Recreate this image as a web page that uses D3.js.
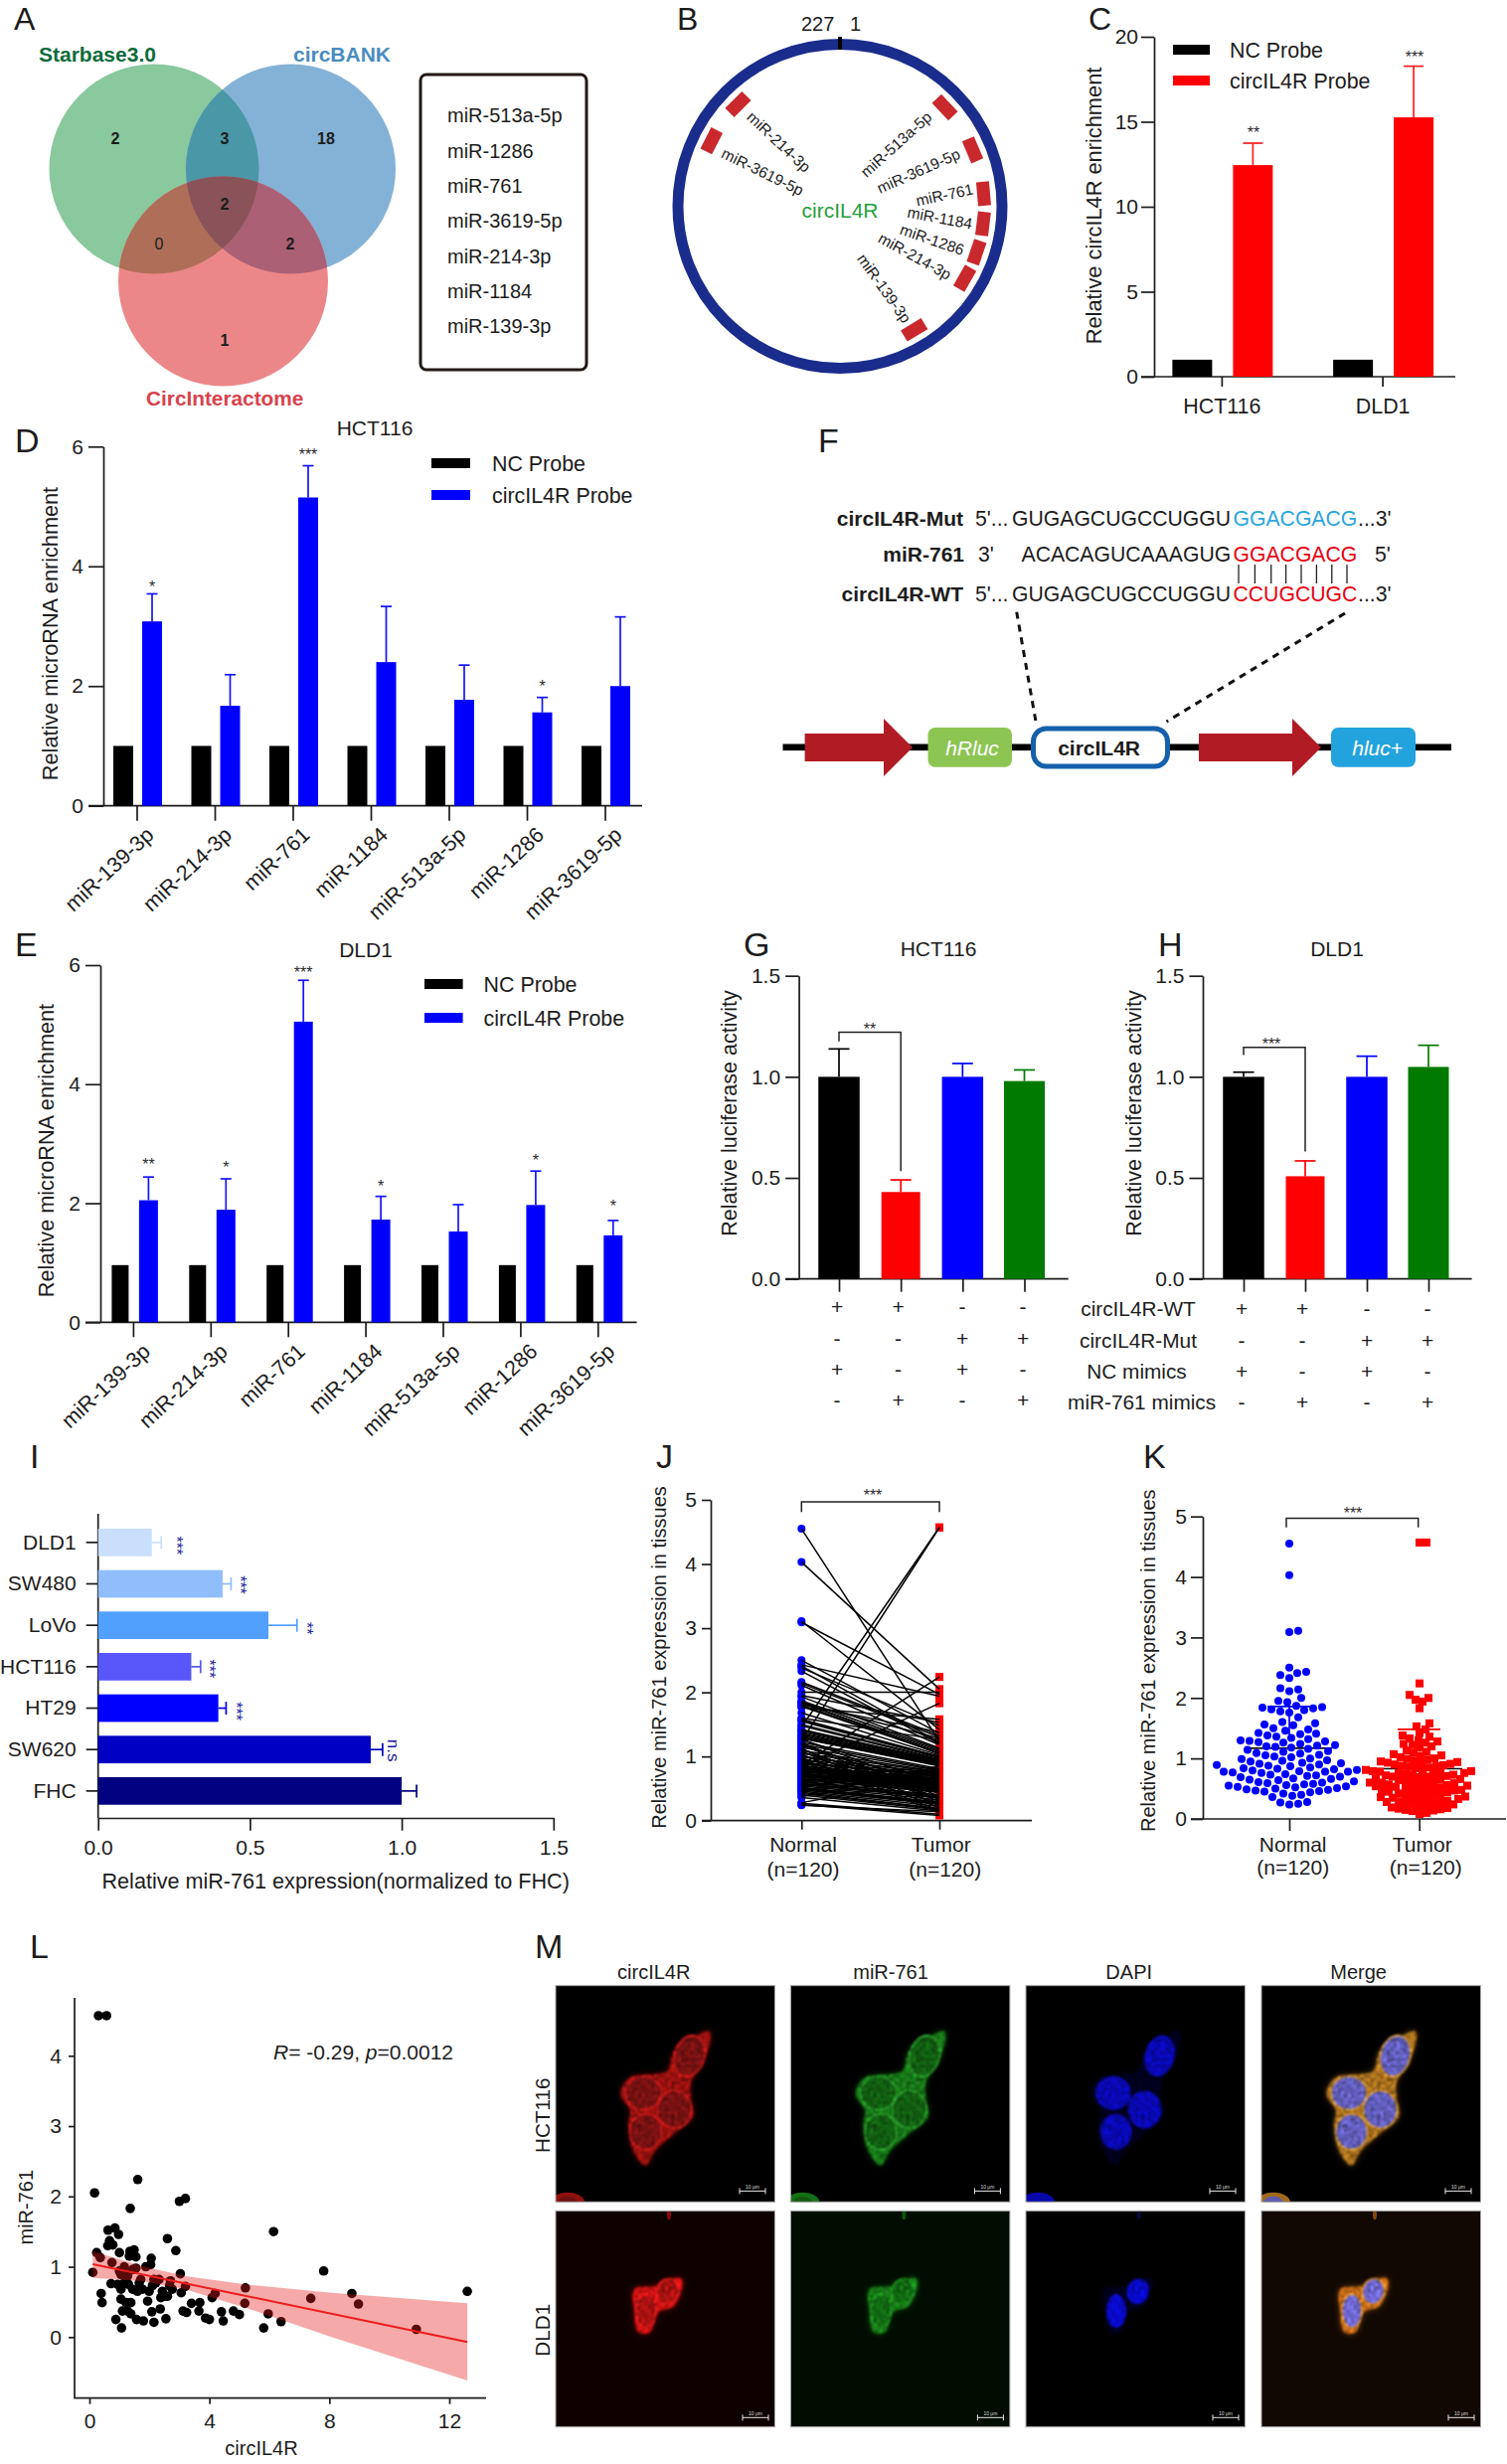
<!DOCTYPE html>
<html><head><meta charset="utf-8">
<script src="https://cdn.jsdelivr.net/npm/d3@7"></script>
<style>html,body{margin:0;background:#fff}svg{display:block}text{font-family:"Liberation Sans",Arial,sans-serif;fill:#1c1c1c}</style>
</head><body><svg id="fig" width="1516" height="2479" viewBox="0 0 1516 2479"></svg>
<script>
// ---------- data ----------
const vennItems=["miR-513a-5p","miR-1286","miR-761","miR-3619-5p","miR-214-3p","miR-1184","miR-139-3p"];
const vennCounts=[2,3,18,2,0,2,1];
const cCats=["HCT116","DLD1"];
const cNC=[1,1];
const cProbe=[12.45,15.26];
const cErr=[13.74,18.27];
const mirCats=["miR-139-3p","miR-214-3p","miR-761","miR-1184","miR-513a-5p","miR-1286","miR-3619-5p"];
const dNC=[1,1,1,1,1,1,1];
const dProbe=[3.08,1.67,5.15,2.40,1.77,1.56,2.00];
const dErr=[3.54,2.19,5.68,3.33,2.35,1.81,3.155];
const dStars=["*","","***","","","*",""];
const eNC=[.96,.96,.96,.96,.96,.96,.96];
const eProbe=[2.05,1.89,5.05,1.725,1.525,1.97,1.46];
const eErr=[2.44,2.41,5.745,2.115,1.976,2.54,1.71];
const eStars=["**","*","***","*","","*","*"];
const lucCats=["a","b","c","d"];
const lucColors=["#000000","#ff0000","#0000ff","#007a00"];
const gVals=[1,.43,1,.979];
const gErr=[1.138,.49,1.066,1.034];
const hVals=[1,.508,1,1.049];
const hErr=[1.023,.584,1.102,1.156];
const signRows=[["+","+","-","-"],["-","-","+","+"],["+","-","+","-"],["-","+","-","+"]];
const signNames=["circIL4R-WT","circIL4R-Mut","NC mimics","miR-761 mimics"];
const iCats=["DLD1","SW480","LoVo","HCT116","HT29","SW620","FHC"];
const iVals=[.177,.41,.561,.307,.396,.898,1];
const iErr=[.208,.438,.655,.3375,.4215,.937,1.049];
const iStars=["***","***","**","***","***","n.s",""];
const iColors=["#c9dffb","#90bdfb","#52a0fe","#5757fa","#0000ff","#0000c4","#000080"];
const normal=[4.55,4.03,3.11,3.09,2.50,2.43,2.41,2.38,2.33,2.16,
2.14,2.11,2.00,1.95,1.93,1.87,1.85,1.84,1.83,1.81,
1.80,1.78,1.76,1.68,1.60,1.58,1.56,1.55,1.50,1.48,
1.46,1.42,1.41,1.40,1.38,1.36,1.34,1.32,1.30,1.29,
1.28,1.27,1.26,1.24,1.22,1.21,1.20,1.19,1.18,1.16,
1.14,1.12,1.11,1.09,1.08,1.06,1.05,1.03,1.02,1.00,
0.99,0.97,0.96,0.95,0.93,0.92,0.91,0.90,0.89,0.88,
0.87,0.85,0.84,0.83,0.82,0.81,0.80,0.79,0.78,0.78,
0.78,0.77,0.76,0.74,0.73,0.72,0.71,0.70,0.69,0.67,
0.66,0.65,0.64,0.62,0.61,0.60,0.59,0.58,0.57,0.56,
0.55,0.54,0.53,0.52,0.51,0.50,0.49,0.48,0.47,0.46,
0.45,0.44,0.42,0.40,0.38,0.36,0.28,0.27,0.25,0.24];
const tumor=[1.24,2.05,1.42,1.97,1.36,1.94,1.22,1.48,1.20,1.33,
1.30,1.18,2.00,1.53,1.13,1.11,1.04,1.28,1.09,1.38,
1.07,1.05,1.58,1.02,1.26,1.00,0.99,0.98,0.96,0.95,
4.57,0.94,0.93,0.92,0.91,0.90,0.89,0.88,0.87,0.86,
0.85,0.46,0.60,4.57,0.81,0.38,0.42,0.79,0.34,0.56,
0.78,0.30,0.33,0.76,0.24,0.53,0.75,0.20,0.48,0.73,
0.73,0.44,0.16,0.71,0.37,0.13,0.70,0.51,0.69,0.28,
2.24,0.66,1.83,0.65,0.64,0.63,0.62,0.61,0.60,0.59,
0.58,0.57,0.56,0.55,0.54,0.52,0.50,0.49,0.48,0.47,
0.84,0.45,0.44,0.79,0.40,0.39,0.80,0.37,0.36,0.35,
0.77,0.32,0.76,0.29,0.28,0.27,0.26,0.25,0.74,0.22,
0.72,0.19,0.18,0.17,0.70,0.15,0.66,0.10,0.08,0.14];
const normalMean=1.17, normalUpper=1.86, tumorMean=.83, tumorUpper=1.48;
const scatterX=[.3,.57,.17,1.61,1.36,3.0,3.2,6.14,2.6,2.88,.62,.85,.97,.67,.61,.78,.24,.36,1.0,.75,.11,7.81,12.6,8.75,8.97,7.38,5.2,5.18,10.9,6.39,5.96,5.81,4.19,4.09,4.4,4.46,4.8,5.0,4.0,3.87,3.65,3.68,3.4,3.12,3.24,3.06,3.2,3.03,2.55,2.36,2.08,2.15,1.8,1.57,1.94,1.07,.88,.42,.39,.72,1.05,1.1,1.22,1.38,1.27,1.38,.94,1.05,1.16,1.3,1.44,1.6,1.77,1.99,2.1,1.66,1.0,1.16,1.27,1.44,1.55,1.71,1.88,2.04,2.06,1.33,1.49,1.35,1.55,1.05,1.22,2.15,2.32,2.21,2.7,2.67,2.76,2.43,2.38,2.6,2.49];
const scatterY=[4.57,4.57,2.05,2.24,1.83,1.93,1.97,1.50,1.40,1.23,1.52,1.55,1.46,1.37,1.30,1.31,1.2,1.13,1.2,1.06,.92,.94,.65,.62,.47,.55,.70,.48,.11,.22,.33,.13,.62,.56,.36,.23,.37,.32,.25,.27,.37,.49,.48,.37,.35,.63,.72,.9,.26,.4,.36,.21,.23,.25,.51,.13,.25,.49,.62,.76,.54,.37,.49,.49,.37,.33,.75,.68,.77,.75,.68,.65,.68,.65,.73,.77,.94,1.0,.87,.96,.98,.82,1.0,1.03,1.12,1.15,1.24,1.22,1.14,.89,.89,.82,.82,.77,.8,.73,.68,.65,.56,.58,.58];
const fitX=[.11,12.6];
const fitY=[1.037,-.07];
const bandX=[.11,1.76,3.2,5.2,8.07,12.6];
const bandUpper=[1.22,1.008,.867,.749,.631,.48];
const bandLower=[.843,.796,.678,.419,0,-.617];
const mColumns=["circIL4R","miR-761","DAPI","Merge"];
const mRows=["HCT116","DLD1"];

// ---------- helpers ----------
const svg=d3.select("#fig");
const FS=21, AX="#1c1c1c", AW=1.7, intFmt=d3.format("d");
function T(g,x,y,s,o={}){
  const t=g.append("text").attr("font-size",o.size||FS).attr("text-anchor",o.anchor||"start")
   .attr("transform",`translate(${x},${y})`+(o.rot?` rotate(${o.rot})`:"")).text(s);
  if(o.mid)t.attr("dy",".36em");
  if(o.weight)t.attr("font-weight",o.weight);
  if(o.style)t.attr("font-style",o.style);
  if(o.color)t.style("fill",o.color);
  return t;
}
function star(g,x,y,s,rot=0,color="#2a2a2a"){
  const sz=s==="n.s"?17:16;
  g.append("text").attr("font-size",sz).attr("text-anchor","middle").attr("transform",`translate(${x},${y}) rotate(${rot})`)
   .attr("dy",s==="n.s"?".3em":".58em").text(s).style("fill",color);
}
function letter(s,x,y){T(svg,x,y,s,{size:y<100?32:34});}
function styleAxis(a,size=FS){
  a.selectAll("path,line").attr("stroke",AX).attr("stroke-width",AW);
  a.selectAll("text").attr("font-size",size).style("fill",AX);
  return a;
}
function yAxis(x,y,vals,tick,pad,fmt){
  const ax=d3.axisLeft(y).tickValues(vals).tickSize(tick).tickPadding(pad).tickSizeOuter(0);
  if(fmt)ax.tickFormat(fmt);
  return styleAxis(svg.append("g").attr("transform",`translate(${x},0)`).call(ax));
}
function hline(y,x0,x1){svg.append("line").attr("x1",x0).attr("x2",x1).attr("y1",y).attr("y2",y).attr("stroke",AX).attr("stroke-width",AW);}
function errV(x,y0,y1,capw,color){
  const g=svg.append("g").attr("stroke",color).attr("stroke-width",1.7);
  g.append("line").attr("x1",x).attr("x2",x).attr("y1",y0).attr("y2",y1);
  g.append("line").attr("x1",x-capw/2).attr("x2",x+capw/2).attr("y1",y1).attr("y2",y1);
}
function bracket(x0,yl,yt,x1,yr){
  svg.append("path").attr("d",`M${x0},${yl}V${yt}H${x1}V${yr}`).attr("fill","none").attr("stroke","#222").attr("stroke-width",1.5);
}
function legend(x0,x1,yc,color,tx,label){
  svg.append("rect").attr("x",x0).attr("y",yc-5).attr("width",x1-x0).attr("height",10).attr("fill",color);
  T(svg,tx,yc,label,{mid:1,size:21.4});
}

// ---------- A: Venn ----------
letter("A",14,29.5);
const defs=svg.append("defs");
const venn=[{id:"vg",cx:155,cy:170},{id:"vb",cx:292.5,cy:170},{id:"vr",cx:224.5,cy:283}];
const vr=105.5;
venn.forEach(v=>defs.append("clipPath").attr("id",v.id).append("circle").attr("cx",v.cx).attr("cy",v.cy).attr("r",vr));
const A=svg.append("g");
const circ=(g,v,f)=>g.append("circle").attr("cx",v.cx).attr("cy",v.cy).attr("r",vr).attr("fill",f);
circ(A,venn[0],"#8ac89d");circ(A,venn[1],"#84b2d6");circ(A,venn[2],"#ec8789");
circ(A,venn[1],"#4a97a8").attr("clip-path","url(#vg)");
circ(A,venn[2],"#ae6e58").attr("clip-path","url(#vg)");
circ(A,venn[2],"#ab6075").attr("clip-path","url(#vb)");
circ(A.append("g").attr("clip-path","url(#vg)"),venn[2],"#8a5259").attr("clip-path","url(#vb)");
T(svg,39,62,"Starbase3.0",{weight:"bold",color:"#0e6b3a",size:21});
T(svg,295,62,"circBANK",{weight:"bold",color:"#4a8cc0",size:21});
T(svg,147,408,"CircInteractome",{weight:"bold",color:"#d9434d",size:20.8});
const vennPos=[[116,139],[226,139],[328,139],[226,205],[160,245],[292,245],[226,342]];
vennCounts.forEach((c,i)=>T(svg,vennPos[i][0],vennPos[i][1],c,{anchor:"middle",mid:1,size:16,weight:c===0?null:"bold"}));
svg.append("rect").attr("x",423).attr("y",75).attr("width",167).attr("height",297).attr("rx",6).attr("fill","none").attr("stroke","#231815").attr("stroke-width",3);
const boxY=d3.scalePoint().domain(vennItems).range([116,328]);
vennItems.forEach(s=>T(svg,450,boxY(s),s,{mid:1,size:20}));

// ---------- B: circular map ----------
letter("B",681,29.5);
const bc=[845,207.5], br=163;
svg.append("circle").attr("cx",bc[0]).attr("cy",bc[1]).attr("r",br).attr("fill","none").attr("stroke","#1a2c8c").attr("stroke-width",11);
svg.append("line").attr("x1",bc[0]).attr("x2",bc[0]).attr("y1",37).attr("y2",50).attr("stroke","#000").attr("stroke-width",4);
T(svg,806,31,"227",{size:20});T(svg,855,31,"1",{size:20});
T(svg,845,211,"circIL4R",{anchor:"middle",mid:1,size:21,color:"#1fa03c"});
const bAngles=[46.7,67,85,97,108.6,120,149,-45,-63];
bAngles.forEach(a=>svg.append("rect").attr("x",-12).attr("y",-145-6.5).attr("width",24).attr("height",13).attr("fill","#c9282d")
  .attr("transform",`translate(${bc[0]},${bc[1]}) rotate(${a})`));
const bLabels=[["miR-513a-5p",868,175,-42],["miR-3619-5p",883,190,-24],["miR-761",921.5,202,-12],["miR-1184",913,213,10.6],["miR-1286",906,230,19],["miR-214-3p",885,238,29],["miR-139-3p",866,257,54.5],["miR-214-3p",754,115,43],["miR-3619-5p",727,153,26]];
bLabels.forEach(l=>T(svg,l[1],l[2],l[0],{size:15.5,rot:l[3],mid:1}));

// ---------- C ----------
letter("C",1095,29.5);
{
 const y=d3.scaleLinear().domain([0,20]).range([379,37]);
 const x=d3.scaleBand().domain(cCats).range([1148.5,1472]);
 hline(y(0),1148,1464);
 yAxis(1161,y,[0,5,10,15,20],13,3,intFmt);
 const ax=styleAxis(svg.append("g").attr("transform",`translate(0,${y(0)})`).call(d3.axisBottom(x).tickSize(10).tickPadding(12).tickSizeOuter(0)),21.4);
 ax.select(".domain").remove();
 cCats.forEach((c,i)=>{
  const mid=x(c)+x.bandwidth()/2;
  svg.append("rect").attr("x",mid-50).attr("width",40).attr("y",y(cNC[i])).attr("height",y(0)-y(cNC[i])).attr("fill","#000");
  errV(mid+31,y(cProbe[i]),y(cErr[i]),20,"#ff2020");
  svg.append("rect").attr("x",mid+11).attr("width",40).attr("y",y(cProbe[i])).attr("height",y(0)-y(cProbe[i])).attr("fill","#ff0000");
 });
 star(svg,1261,130,"**");star(svg,1423,54,"***");
 legend(1180,1217,50,"#000",1237,"NC Probe");legend(1180,1217,81,"#ff0000",1237,"circIL4R Probe");
 T(svg,1100,207,"Relative circIL4R enrichment",{anchor:"middle",rot:-90,mid:1,size:21.8});
}

// ---------- D / E ----------
function mirPanel(o){
 const y=d3.scaleLinear().domain([0,6]).range(o.yr);
 const s=o.step;
 const x=d3.scaleBand().domain(mirCats).range([o.t0-s/2,o.t0+s*6.5]);
 hline(y(0),o.axL,o.axR);
 yAxis(o.ax,y,[0,2,4,6],15,5,intFmt);
 const ax=styleAxis(svg.append("g").attr("transform",`translate(0,${y(0)})`).call(d3.axisBottom(x).tickSize(15).tickSizeOuter(0)),21.5);
 ax.select(".domain").remove();
 ax.selectAll("text").attr("y",0).attr("x",0).attr("dy","0").attr("text-anchor","end").attr("transform","translate(18,31) rotate(-43)");
 mirCats.forEach((c,i)=>{
  const mid=x(c)+s/2;
  svg.append("rect").attr("x",mid+o.ncO).attr("width",o.ncW).attr("y",y(o.nc[i])).attr("height",y(0)-y(o.nc[i])).attr("fill","#000");
  errV(mid+o.pO+o.pW/2,y(o.vals[i]),y(o.err[i]),11,"#1414ff");
  svg.append("rect").attr("x",mid+o.pO).attr("width",o.pW).attr("y",y(o.vals[i])).attr("height",y(0)-y(o.vals[i])).attr("fill","#0000ff");
  if(o.stars[i])star(svg,mid+o.pO+o.pW/2,y(o.err[i])-o.starGap[i],o.stars[i]);
 });
 T(svg,o.tx,o.ty,o.title,{anchor:"middle",mid:1,size:21});
 legend(o.lx0,o.lx1,o.ly[0],"#000",o.ltx,"NC Probe");legend(o.lx0,o.lx1,o.ly[1],"#0000ff",o.ltx,"circIL4R Probe");
 T(svg,o.yx,o.yy,"Relative microRNA enrichment",{anchor:"middle",rot:-90,mid:1,size:21.7});
}
letter("D",15,455);
mirPanel({yr:[810.7,449.3],step:78.5,t0:138,axL:89,axR:646,ax:104,nc:dNC,vals:dProbe,err:dErr,stars:dStars,ncO:-24,ncW:20,pO:5,pW:20,
 starGap:[11,0,15,0,0,15,0],tx:377,ty:430,title:"HCT116",lx0:434,lx1:473,ly:[466,498],ltx:495,yx:50,yy:637.5});
letter("E",15,962);
mirPanel({yr:[1330.3,971],step:77.9,t0:134.4,axL:86,axR:640.6,ax:101,nc:eNC,vals:eProbe,err:eErr,stars:eStars,ncO:-22,ncW:17,pO:5.5,pW:19,
 starGap:[16,15,12,14,0,14,18],tx:368,ty:955,title:"DLD1",lx0:427,lx1:465.6,ly:[990,1024],ltx:486.6,yx:46,yy:1157.5});

// ---------- F: construct ----------
letter("F",823,455);
const F=svg.append("g");
const seqPre="GUGAGCUGCCUGGU";
function seqRow(base,label,labelRight,prefix,px,seq,sx,colored,color,cx,suffix,ex){
  T(F,labelRight,base,label,{anchor:"end",weight:"bold",size:21});
  T(F,px,base,prefix,{size:21.2});
  T(F,sx,base,seq,{size:21.2});
  T(F,cx,base,colored,{size:21.2,color});
  T(F,ex,base,suffix,{size:21.2});
}
seqRow(529,"circIL4R-Mut",969,"5'...",981,seqPre,1018,"GGACGACG","#29a6e0",1240.5,"...3'",1366);
seqRow(565,"miR-761",970,"3'",984,"ACACAGUCAAAGUG",1027.5,"GGACGACG","#e60012",1240.5,"5'",1383);
seqRow(605,"circIL4R-WT",969,"5'...",981,seqPre,1018,"CCUGCUGC","#e60012",1240.5,"...3'",1366);
[1246,1262.4,1278.7,1293.6,1309,1324.4,1339.8,1355].forEach(x=>F.append("line").attr("x1",x).attr("x2",x).attr("y1",568).attr("y2",587).attr("stroke","#222").attr("stroke-width",1.3));
F.append("line").attr("x1",1022.7).attr("y1",615.7).attr("x2",1042).attr("y2",726).attr("stroke","#111").attr("stroke-width",3).attr("stroke-dasharray","7,6");
F.append("line").attr("x1",1353).attr("y1",617).attr("x2",1173.5).attr("y2",726).attr("stroke","#111").attr("stroke-width",3).attr("stroke-dasharray","7,6");
F.append("rect").attr("x",787.5).attr("y",748.5).attr("width",672.5).attr("height",6.6).attr("fill","#000");
function bigArrow(x0,x1,x2){F.append("path").attr("d",`M${x0},738H${x1}V723L${x2},752L${x1},781V766H${x0}Z`).attr("fill","#b11b23");}
bigArrow(809.6,889,918);bigArrow(1206,1300,1329);
F.append("rect").attr("x",933.5).attr("y",732).attr("width",84.5).attr("height",39.7).attr("rx",7).attr("fill","#8dc553");
T(F,978,752,"hRluc",{anchor:"middle",mid:1,size:21,style:"italic",color:"#fff"});
F.append("rect").attr("x",1339).attr("y",732).attr("width",85).attr("height",39.7).attr("rx",7).attr("fill","#23a3dd");
T(F,1385.6,752,"hluc+",{anchor:"middle",mid:1,size:21,style:"italic",color:"#fff"});
F.append("rect").attr("x",1039.5).attr("y",733).attr("width",135).attr("height",38).attr("rx",13).attr("fill","#fff").attr("stroke","#1560ab").attr("stroke-width",5);
T(F,1105.6,752,"circIL4R",{anchor:"middle",mid:1,size:21,weight:"bold"});

// ---------- G / H ----------
function lucPanel(o){
 const y=d3.scaleLinear().domain([0,1.5]).range([1286.7,981.7]);
 const x=d3.scalePoint().domain(lucCats).range(o.ticks);
 hline(y(0),o.ax-13.5,o.axR);
 yAxis(o.ax,y,[0,.5,1,1.5],13.5,5,d3.format(".1f"));
 const ax=styleAxis(svg.append("g").attr("transform",`translate(0,${y(0)})`).call(d3.axisBottom(x).tickSize(13).tickFormat("").tickSizeOuter(0)));
 ax.select(".domain").remove();
 lucCats.forEach((c,i)=>{
  const wid=o.w[i], cx=x(c);
  errV(cx,y(o.vals[i]),y(o.err[i]),o.cap,lucColors[i]);
  svg.append("rect").attr("x",cx-wid/2).attr("width",wid).attr("y",y(o.vals[i])).attr("height",y(0)-y(o.vals[i])).attr("fill",lucColors[i]);
  signRows.forEach((r,j)=>T(svg,o.signX[i],o.signY[j],r[i],{anchor:"middle",mid:1,size:21}));
 });
 bracket(x("a"),y(o.br[0]),y(o.br[1]),x("b"),y(o.br[2]));
 star(svg,o.starX,o.starY,o.stars);
 T(svg,o.tx,954,o.title,{anchor:"middle",mid:1,size:21});
 T(svg,o.yx,1120,"Relative luciferase activity",{anchor:"middle",rot:-90,mid:1,size:21.5});
}
letter("G",748,962);letter("H",1165,962);
lucPanel({ticks:[844,1030.5],ax:803.6,axR:1074.7,vals:gVals,err:gErr,w:[41.5,39,41.5,41],cap:21,signX:[842,903.5,968,1029],signY:[1314,1346,1377,1408],br:[1.175,1.221,.533],starX:875,starY:1032,stars:"**",tx:944,title:"HCT116",yx:733});
lucPanel({ticks:[1251,1437],ax:1210,axR:1480.6,vals:hVals,err:hErr,w:[41.5,39,41.5,41],cap:21,signX:[1249,1310,1375,1436],signY:[1316.7,1348,1379.3,1410],br:[1.107,1.146,.631],starX:1279,starY:1047,stars:"***",tx:1345,title:"DLD1",yx:1140});
const rowLabelX=[1145,1145,1143.5,1148.6];
signNames.forEach((s,i)=>T(svg,rowLabelX[i],[1316.7,1348,1379,1410][i],s,{anchor:"middle",mid:1,size:20.8}));

// ---------- I ----------
letter("I",30,1477);
{
 const x=d3.scaleLinear().domain([0,1.5]).range([98.7,556.8]);
 const y=d3.scaleBand().domain(iCats).range([1531,1822.7]).paddingInner(.335).paddingOuter(.167);
 styleAxis(svg.append("g").attr("transform","translate(0,1829)").call(d3.axisBottom(x).tickValues([0,.5,1,1.5]).tickSize(12.7).tickPadding(9).tickFormat(d3.format(".1f")).tickSizeOuter(0)));
 const ya=styleAxis(svg.append("g").attr("transform","translate(98.7,0)").call(d3.axisLeft(y).tickSize(12).tickPadding(10).tickSizeOuter(0)));
 ya.select(".domain").remove();
 svg.append("line").attr("x1",98.7).attr("x2",98.7).attr("y1",1523).attr("y2",1829).attr("stroke",AX).attr("stroke-width",AW);
 iCats.forEach((c,i)=>{
  const yc=y(c)+y.bandwidth()/2;
  const g=svg.append("g").attr("stroke",iColors[i]).attr("stroke-width",1.7);
  g.append("line").attr("x1",x(iVals[i])).attr("x2",x(iErr[i])).attr("y1",yc).attr("y2",yc);
  g.append("line").attr("x1",x(iErr[i])).attr("x2",x(iErr[i])).attr("y1",yc-6.5).attr("y2",yc+6.5);
  svg.append("rect").attr("x",x(0)).attr("y",y(c)).attr("width",x(iVals[i])-x(0)).attr("height",y.bandwidth()).attr("fill",iColors[i]);
  if(iStars[i]){
    const off={0:19,1:13,2:14,3:13,4:14,5:10}[i];
    star(svg,x(iErr[i])+off,yc+[3,1,3,2,3,1][i],iStars[i],90,"#1a1a9e");
  }
 });
 T(svg,337.7,1892,"Relative miR-761 expression(normalized to FHC)",{anchor:"middle",mid:1,size:21.6});
}

// ---------- J ----------
letter("J",660,1477);
const groups=["Normal","Tumor"];
{
 const y=d3.scaleLinear().domain([0,5]).range([1831.7,1509]);
 const x=d3.scalePoint().domain(groups).range([806.3,945]);
 hline(y(0),706,1038);
 yAxis(715,y,[0,1,2,3,4,5],9,5,intFmt);
 styleAxis(svg.append("g").attr("transform",`translate(0,${y(0)})`).call(d3.axisBottom(x).tickSize(9).tickFormat("").tickSizeOuter(0))).select(".domain").remove();
 svg.append("g").selectAll("circle").data(normal).join("circle").attr("cx",x("Normal")).attr("cy",d=>y(d)).attr("r",4).attr("fill","#0000ff");
 svg.append("g").selectAll("rect").data(tumor).join("rect").attr("x",x("Tumor")-4).attr("y",d=>y(d)-4).attr("width",8).attr("height",8).attr("fill","#ff0000");
 svg.append("g").selectAll("line").data(normal).join("line").attr("x1",x("Normal")).attr("x2",x("Tumor")).attr("y1",d=>y(d)).attr("y2",(d,i)=>y(tumor[i])).attr("stroke","#000").attr("stroke-width",1.5);
 bracket(x("Normal"),y(4.81),y(4.97),x("Tumor"),y(4.81));
 star(svg,878,1501,"***");
 T(svg,808,1855.7,"Normal",{anchor:"middle",mid:1,size:21});T(svg,808,1880,"(n=120)",{anchor:"middle",mid:1,size:21});
 T(svg,946.7,1855.7,"Tumor",{anchor:"middle",mid:1,size:21});T(svg,950.7,1880,"(n=120)",{anchor:"middle",mid:1,size:21});
 T(svg,663,1667.5,"Relative miR-761 expression in tissues",{anchor:"middle",rot:-90,mid:1,size:20});
}

// ---------- K ----------
letter("K",1150,1477);
function swarm(vals,y,dist){
  const placed=[];
  return vals.slice().sort(d3.ascending).map((v,idx)=>{
    const py=y(v);
    for(let k=0;k<400;k++){
      const off=(k%2?1:-1)*Math.ceil(k/2)*(idx%2?1:-1);
      if(placed.every(p=>(p[0]-off)**2+(p[1]-py)**2>=dist*dist)){placed.push([off,py]);return {off,py};}
    }
    return {off:0,py};
  });
}
{
 const y=d3.scaleLinear().domain([0,5]).range([1830,1525.7]);
 const x=d3.scalePoint().domain(groups).range([1297,1427.7]);
 hline(y(0),1198,1515);
 yAxis(1210,y,[0,1,2,3,4,5],12,4,intFmt);
 styleAxis(svg.append("g").attr("transform",`translate(0,${y(0)})`).call(d3.axisBottom(x).tickSize(12).tickFormat("").tickSizeOuter(0))).select(".domain").remove();
 const mean=(x0,x1,yy,c,w)=>svg.append("line").attr("x1",x0).attr("x2",x1).attr("y1",y(yy)).attr("y2",y(yy)).attr("stroke",c).attr("stroke-width",w);
 mean(1253,1340,normalMean,"#111",1.7);
 mean(1383,1471,tumorMean,"#111",1.7);
 svg.append("g").selectAll("circle").data(swarm(normal,y,9)).join("circle").attr("cx",d=>1297+d.off).attr("cy",d=>d.py).attr("r",4).attr("fill","#0000ff");
 svg.append("g").selectAll("rect").data(swarm(tumor,y,7)).join("rect").attr("x",d=>1428+d.off-4).attr("y",d=>d.py-4).attr("width",8).attr("height",8).attr("fill","#ff0000");
 mean(1275,1319,normalUpper,"#0000ff",1.7);
 svg.append("line").attr("x1",1297).attr("x2",1297).attr("y1",y(normalUpper)).attr("y2",y(1.35)).attr("stroke","#0000ff").attr("stroke-width",1.7);
 mean(1406,1449,tumorUpper,"#ff0000",1.7);
 bracket(x("Normal")-3,y(4.82),y(4.97),1426.7,y(4.82));
 star(svg,1361,1519,"***");
 T(svg,1300.7,1855.7,"Normal",{anchor:"middle",mid:1,size:21});T(svg,1300.7,1878.7,"(n=120)",{anchor:"middle",mid:1,size:21});
 T(svg,1430.7,1855.7,"Tumor",{anchor:"middle",mid:1,size:21});T(svg,1434.3,1878.7,"(n=120)",{anchor:"middle",mid:1,size:21});
 T(svg,1155,1670.7,"Relative miR-761 expression in tissues",{anchor:"middle",rot:-90,mid:1,size:20});
}

// ---------- L ----------
letter("L",30,1970);
{
 const x=d3.scaleLinear().domain([0,12]).range([90,452]);
 const y=d3.scaleLinear().domain([0,4]).range([2351.3,2068.3]);
 const xa=d3.axisBottom(x).tickValues([0,4,8,12]).tickSize(6).tickPadding(9).tickFormat(intFmt).tickSizeOuter(0);
 styleAxis(svg.append("g").attr("transform","translate(0,2412.7)").call(xa)).select(".domain").remove();
 styleAxis(svg.append("g").attr("transform","translate(75,0)").call(d3.axisLeft(y).tickValues([0,1,2,3,4]).tickSize(6).tickPadding(7).tickFormat(intFmt).tickSizeOuter(0))).select(".domain").remove();
 svg.append("path").attr("d","M75,2010V2412.7H489").attr("fill","none").attr("stroke",AX).attr("stroke-width",AW);
 svg.append("g").selectAll("circle").data(scatterX).join("circle").attr("cx",d=>x(d)).attr("cy",(d,i)=>y(scatterY[i])).attr("r",4.8).attr("fill","#000");
 const band=d3.area().x(d=>x(d)).y0((d,i)=>y(bandLower[i])).y1((d,i)=>y(bandUpper[i]));
 svg.append("path").datum(bandX).attr("d",band).attr("fill","#e61e1e").attr("fill-opacity",.38);
 const fl=d3.line().x(d=>x(d)).y((d,i)=>y(fitY[i]));
 svg.append("path").datum(fitX).attr("d",fl).attr("fill","none").attr("stroke","#ee1c1c").attr("stroke-width",2);
 const t=T(svg,275,2072,"",{size:21});
 t.append("tspan").attr("font-style","italic").text("R");t.append("tspan").text("= -0.29, ");
 t.append("tspan").attr("font-style","italic").text("p");t.append("tspan").text("=0.0012");
 T(svg,263,2463,"circIL4R",{anchor:"middle",mid:1,size:20});
 T(svg,26,2220.7,"miR-761",{anchor:"middle",rot:-90,mid:1,size:20});
}

// ---------- M: micrographs ----------
letter("M",538,1970);
const fl=defs.append("filter").attr("id","tex").attr("x","-10%").attr("y","-10%").attr("width","120%").attr("height","120%").attr("color-interpolation-filters","sRGB");
fl.append("feTurbulence").attr("type","fractalNoise").attr("baseFrequency",.3).attr("numOctaves",2).attr("seed",4).attr("result","n");
fl.append("feColorMatrix").attr("in","n").attr("type","matrix").attr("values","1 0 0 0 0 1 0 0 0 0 1 0 0 0 0 0 0 0 0 1").attr("result","g");
fl.append("feComposite").attr("in","SourceGraphic").attr("in2","g").attr("operator","arithmetic").attr("k1",1.5).attr("k2",.3).attr("result","c");
fl.append("feGaussianBlur").attr("in","c").attr("stdDeviation",.9);
const fb=defs.append("filter").attr("id","glow").attr("x","-30%").attr("y","-30%").attr("width","160%").attr("height","160%").attr("color-interpolation-filters","sRGB");
fb.append("feGaussianBlur").attr("stdDeviation",3);
const mColX=[559,795.4,1032,1269];
const mRowY=[1997.7,2224.3];
const mW=220.5, mH=[217.6,217.4];
const palette=[[
 {cyto:"#90100e",rim:"#d81a1a",nuc:"#701010"},
 {cyto:"#157015",rim:"#2ea02e",nuc:"#105810"},
 {cyto:"#00001c",rim:"none",nuc:"#0808a8"},
 {cyto:"#a06a1c",rim:"#d89a2a",nuc:"#5c58b0"}],[
 {cyto:"#c01010",rim:"#ee1c1c",nuc:"#a01010"},
 {cyto:"#147414",rim:"#219021",nuc:"#106410"},
 {cyto:"#00001a",rim:"none",nuc:"#0808c0"},
 {cyto:"#b86418",rim:"#e09020",nuc:"#6a62c8"}]];
const rowBg=[["#000","#000","#000","#000"],["#0f0000","#000d00","#000","#110802"]];
const outlineA=[[155,46],[150.7,72.3],[136,97.3],[136,112.3],[138,132.3],[119,149],[100,166],[90.6,181],[78,166],[73,139],[75,125.7],[65.4,109],[75,92.3],[100,89],[112.6,85.7],[119,65.7],[138,52.3]];
const nucleiA=[[134.6,70.7,15,21,15],[88,108,18,17,0],[119.5,124.7,17,19,0],[90.6,147,16,18,0]];
const outlineB=[[79,79],[100,75.7],[125,67.3],[128,72],[119,95.7],[103,102],[95,122],[83,122],[79,99]];
const nucleiB=[[112.6,81,11,13,15],[91,100.7,10,17,0]];
const outlinePath=d3.line().curve(d3.curveCatmullRomClosed.alpha(.5));
mColumns.forEach((name,c)=>{
 T(svg,[657.7,896,1135.7,1366.6][c],1984,name,{anchor:"middle",mid:1,size:20});
 mRows.forEach((row,r)=>{
  const g=svg.append("g").attr("transform",`translate(${mColX[c]},${mRowY[r]})`);
  const cid=`mc${r}${c}`;
  defs.append("clipPath").attr("id",cid).append("rect").attr("width",mW).attr("height",mH[r]);
  g.append("rect").attr("width",mW).attr("height",mH[r]).attr("fill",rowBg[r][c]);
  const inner=g.append("g").attr("clip-path",`url(#${cid})`);
  const p=palette[r][c];
  const out=r===0?outlineA:outlineB, nuc=r===0?nucleiA:nucleiB;
  inner.append("path").attr("d",outlinePath(out)).attr("fill",p.cyto).attr("opacity",.55).attr("filter","url(#glow)");
  const body=inner.append("g").attr("filter","url(#tex)");
  body.append("path").attr("d",outlinePath(out)).attr("fill",p.cyto);
  nuc.forEach(n=>{
    body.append("ellipse").attr("cx",n[0]).attr("cy",n[1]).attr("rx",n[2]).attr("ry",n[3]).attr("transform",`rotate(${n[4]},${n[0]},${n[1]})`)
     .attr("fill",p.nuc).attr("stroke",p.rim).attr("stroke-width",c===2?0:1.4);
  });
  if(r===0){
    inner.append("ellipse").attr("cx",12).attr("cy",218).attr("rx",17).attr("ry",10).attr("fill",c===2?"#0808a8":p.cyto);
    inner.append("ellipse").attr("cx",12).attr("cy",219).attr("rx",10).attr("ry",7).attr("fill",p.nuc);
  }else{
    inner.append("ellipse").attr("cx",114).attr("cy",4).attr("rx",2).attr("ry",5).attr("fill",c===2?"#0a0a60":p.cyto).attr("opacity",.7);
  }
  const bx=r===0?185:188, by=r===0?206.7:208;
  const sb=g.append("g").attr("stroke","#e8e8e8").attr("stroke-width",1);
  sb.append("line").attr("x1",bx).attr("x2",bx+26).attr("y1",by).attr("y2",by);
  sb.append("line").attr("x1",bx).attr("x2",bx).attr("y1",by-3).attr("y2",by+3);
  sb.append("line").attr("x1",bx+26).attr("x2",bx+26).attr("y1",by-3).attr("y2",by+3);
  T(g,bx+13,by-2,"10 μm",{anchor:"middle",size:5,color:"#ddd"});
  g.append("rect").attr("width",mW).attr("height",mH[r]).attr("fill","none").attr("stroke","#aaa").attr("stroke-width",1);
 });
});
T(svg,545.7,2128.3,mRows[0],{anchor:"middle",rot:-90,mid:1,size:20.7});
T(svg,545.7,2344.3,mRows[1],{anchor:"middle",rot:-90,mid:1,size:20.7});
</script></body></html>
